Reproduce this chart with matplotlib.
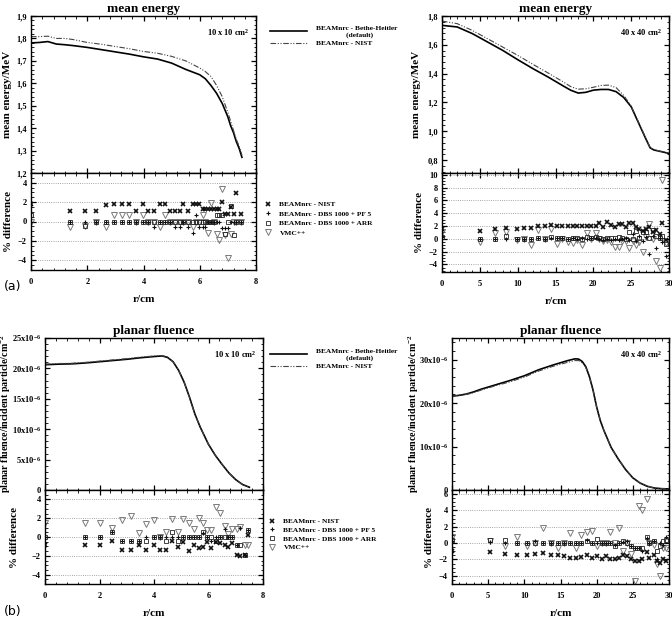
import numpy as np
import matplotlib
matplotlib.use('Agg')
from matplotlib import pyplot as plt
from matplotlib.ticker import MultipleLocator, AutoMinorLocator, FuncFormatter

plt.rcParams['font.family'] = ['Liberation Serif', 'DejaVu Serif']
plt.rcParams['font.weight'] = 'bold'
plt.rcParams['mathtext.default'] = 'regular'
plt.rcParams['axes.linewidth'] = 1.0

# ---- mean energy, 10 x 10 ----
r_me10 = [0, 0.3, 0.6, 0.9, 1.2, 1.5, 2.0, 2.5, 3.0, 3.5, 4.0, 4.5, 5.0, 5.5, 6.0, 6.2, 6.4, 6.6, 6.8, 7.0, 7.1, 7.2, 7.3, 7.4, 7.5]
bh_me10 = [1.78, 1.782, 1.786, 1.775, 1.772, 1.768, 1.76, 1.75, 1.74, 1.73, 1.718, 1.708, 1.69, 1.662, 1.638, 1.62, 1.59, 1.555, 1.51, 1.45, 1.41, 1.38, 1.34, 1.31, 1.27]
nist_me10 = [1.808, 1.808, 1.81, 1.8, 1.8, 1.795, 1.782, 1.774, 1.764, 1.754, 1.742, 1.734, 1.72, 1.70, 1.668, 1.652, 1.63, 1.59, 1.54, 1.47, 1.43, 1.39, 1.35, 1.32, 1.28]

# ---- mean energy, 40 x 40 ----
r_me40 = [0, 2, 4, 6, 8, 10, 12, 14, 16, 17, 18, 19, 20, 21, 22, 23, 24, 25, 26, 27, 27.5, 28, 29, 30]
bh_me40 = [1.735, 1.724, 1.678, 1.62, 1.562, 1.497, 1.435, 1.377, 1.315, 1.285, 1.265, 1.27, 1.285, 1.29, 1.29, 1.275, 1.235, 1.17, 1.055, 0.94, 0.885, 0.87, 0.858, 0.846]
nist_me40 = [1.765, 1.747, 1.70, 1.643, 1.585, 1.527, 1.465, 1.405, 1.343, 1.31, 1.292, 1.295, 1.305, 1.318, 1.32, 1.303, 1.25, 1.175, 1.06, 0.945, 0.888, 0.872, 0.86, 0.848]

# ---- planar fluence (x1e-6), 10 x 10 ----
r_fl10 = [0, 0.5, 1, 1.5, 2, 2.5, 3, 3.5, 4, 4.3, 4.5, 4.7, 4.9, 5.1, 5.3, 5.5, 5.7, 6.0, 6.25, 6.5, 6.75, 7.0, 7.25, 7.5]
bh_fl10 = [20.6, 20.7, 20.75, 20.9, 21.1, 21.3, 21.5, 21.75, 21.95, 22.05, 21.8, 21.1, 19.7, 17.8, 15.3, 12.5, 10.3, 7.5, 5.7, 4.2, 2.8, 1.7, 0.9, 0.45]
nist_fl10 = [20.7, 20.8, 20.85, 21.0, 21.2, 21.4, 21.6, 21.85, 22.05, 22.1, 21.85, 21.1, 19.7, 17.8, 15.3, 12.5, 10.3, 7.5, 5.7, 4.2, 2.8, 1.7, 0.9, 0.45]

# ---- planar fluence (x1e-6), 40 x 40 ----
r_fl40 = [0, 1, 2, 3, 4, 6, 8, 10, 12, 14, 16, 17, 17.5, 18, 18.5, 19, 19.5, 20, 20.5, 21, 22, 23, 24, 25, 26, 27, 28, 29, 30]
bh_fl40 = [21.6, 21.8, 22.1, 22.6, 23.2, 24.2, 25.2, 26.3, 27.7, 28.8, 29.8, 30.2, 30.15, 29.6, 28.4, 26.1, 23.0, 19.1, 16.0, 13.7, 9.8, 7.1, 4.7, 2.8, 1.6, 0.85, 0.45, 0.3, 0.25]
nist_fl40 = [21.6, 21.8, 22.0, 22.4, 23.0, 24.0, 24.9, 26.0, 27.4, 28.5, 29.4, 29.8, 29.8, 29.3, 28.2, 26.0, 23.0, 19.1, 16.0, 13.7, 9.8, 7.1, 4.7, 2.8, 1.6, 0.85, 0.45, 0.3, 0.25]

# ---- % difference, mean energy 10 x 10 ----
r_d10a = [0, 1.37, 1.92, 2.32, 2.66, 2.96, 3.23, 3.5, 3.74, 3.98, 4.16, 4.37, 4.57, 4.75, 4.93, 5.11, 5.29, 5.41, 5.59, 5.75, 5.87, 5.99, 6.1, 6.2, 6.3, 6.4, 6.5, 6.6, 6.7, 6.8, 6.9, 7.0, 7.1, 7.2, 7.3, 7.45]
nist_d10a = [1.8, 1.13, 1.13, 1.13, 1.73, 1.8, 1.8, 1.8, 1.13, 1.8, 1.13, 1.13, 1.8, 1.8, 1.13, 1.13, 1.13, 1.8, 1.13, 1.8, 1.8, 1.8, 1.33, 1.33, 1.33, 1.33, 1.33, 1.33, 1.33, 1.97, 0.8, 0.8, 1.47, 0.8, 2.97, 0.8]
pf5_d10a = [0, 0, 0, 0, 0, 0, 0, 0, 0, 0, 0, -0.6, 0, 0, 0, -0.6, -0.6, 0, -0.6, -1.17, 0.67, -0.6, -0.6, -0.6, 0, 0, 0, 0, 0, -0.7, -0.7, -0.7, 0, 0, 0, 0]
arr_d10a = [0.63, 0, -0.5, 0, 0, 0, 0, 0, 0, 0, 0, 0, 0, 0, 0, 0, 0, 0, 0, 0, 0, 0, 0, 0, 0, 0, 0, 0.67, 0.67, 0.67, -1.27, 0, 1.57, -1.43, 0, 0]
vmc_d10a = [0, -0.6, -0.5, 0, -0.6, 0.67, 0.67, 0.67, 0, 0.67, 0, 0, -0.6, 0.67, 0, 0, 0, 0, 0, -0.6, 0, 0, 0.67, 0, -1.17, 1.9, 0, -1.27, -1.87, 3.4, -1.37, -3.77, -1.33, 0, 0, 0]

# ---- % difference, mean energy 40 x 40 ----
r_d40a = [0, 5.05, 7.0, 8.5, 9.9, 10.8, 11.8, 12.7, 13.6, 14.4, 15.2, 15.9, 16.6, 17.3, 17.9, 18.5, 19.1, 19.7, 20.3, 20.8, 21.3, 21.8, 22.4, 22.8, 23.4, 23.8, 24.3, 24.7, 25.2, 25.6, 26.0, 26.5, 26.9, 27.4, 27.9, 28.3, 28.8, 29.1, 29.6]
nist_d40a = [1.5, 1.25, 1.5, 1.75, 1.6, 1.75, 1.75, 2.0, 2.0, 2.1, 2.0, 2.0, 2.0, 2.0, 2.0, 2.0, 2.0, 2.0, 2.0, 2.4, 1.9, 2.65, 2.1, 1.9, 2.25, 2.35, 1.85, 2.5, 2.4, 1.9, 1.5, 1.25, 1.5, 1.9, 1.0, 1.4, 0.75, 2.5, -0.25]
pf5_d40a = [0.3, -0.1, 0, 0, -0.1, 0, 0, 0.1, 0, 0.1, 0.2, 0.1, 0, 0.1, 0, 0.2, 0, 0.1, 0.2, 0, -0.2, -0.1, -0.2, 0, -0.2, 0, 0.1, -0.2, 0.8, -0.3, 0.5, -0.4, 0.3, -2.4, 0.5, -1.4, 0.2, -0.5, -2.75]
arr_d40a = [0.25, -0.1, -0.1, 0.5, -0.1, -0.1, 0.0, 0.2, -0.1, 0.3, 0.2, 0.2, 0.0, 0.1, 0.2, 0.0, 0.3, 0.2, 0.3, 0.1, 0.0, 0.2, 0.2, 0.1, 0.3, 0.2, 0.0, 1.1, -0.1, 1.25, 0.2, 1.0, 1.1, 0.1, 1.3, 0.5, 0.1, 0.5, -0.75]
vmc_d40a = [1.1, -0.5, 0.85, 1.0, -0.2, 0.0, -1.0, 1.35, 0.0, 1.6, -0.75, 0.0, -0.5, -0.6, -0.25, -0.9, 0.9, 0.0, 0.9, 0.0, -0.3, -0.25, -0.5, -1.25, -1.25, -0.3, -0.3, -1.5, -0.3, -1.0, -0.5, -2.0, 0.3, 2.25, 0.0, -3.5, -4.5, 9.25, -0.6]

# ---- % difference, planar fluence 10 x 10 ----
r_d10b = [0, 1.45, 2.0, 2.45, 2.82, 3.15, 3.44, 3.72, 4.0, 4.23, 4.45, 4.66, 4.87, 5.07, 5.28, 5.46, 5.64, 5.79, 5.95, 6.1, 6.26, 6.44, 6.59, 6.72, 6.87, 7.03, 7.17, 7.33, 7.45]
nist_d10b = [-0.9, -0.9, -0.9, -0.45, -1.33, -1.33, -0.9, -1.33, -0.9, -1.33, -1.33, -0.45, -1.05, -0.56, -1.44, -0.9, -1.16, -1.05, -0.56, -1.16, -0.56, -0.63, -0.9, -1.09, -0.63, -1.93, -2.03, -1.9, 0.2]
pf5_d10b = [0, 0, 0, 0.5, -0.45, -0.45, -0.45, 0, 0, 0, 0, 0, 0, 0, 0, 0, 0, 0.4, 0, -0.45, 0, 0, 0.8, 0, 0, -0.9, 1.0, -1.9, 0.7]
arr_d10b = [0, 0, 0, 0.5, -0.45, -0.45, -0.45, -0.45, 0, 0, -0.45, 0.5, -0.45, 0, 0, 0, 0, 0.5, 0, 0, -0.45, 0, 0, 0, 0, -0.9, -0.9, -1.9, 0.74]
vmc_d10b = [1.47, 1.47, 1.47, 0.95, 1.82, 2.28, 0.4, 1.37, 1.82, 0, 0.5, 1.9, 0.5, 1.9, 1.47, 0.88, 2.0, 1.47, 0.7, 0.7, 3.23, 2.53, 1.19, 0.3, 0.84, 0.84, 1.05, -0.85, -0.85]

# ---- % difference, planar fluence 40 x 40 ----
r_d40b = [0, 5.3, 7.35, 8.96, 10.3, 11.5, 12.6, 13.7, 14.6, 15.5, 16.3, 17.1, 17.9, 18.6, 19.3, 20.0, 20.7, 21.3, 21.9, 22.5, 23.1, 23.7, 24.2, 24.7, 25.3, 25.8, 26.3, 26.9, 27.3, 27.9, 28.3, 28.8, 29.2, 29.6]
nist_d40b = [-1.0, -1.1, -1.3, -1.4, -1.4, -1.3, -1.2, -1.5, -1.4, -1.6, -1.8, -1.8, -1.7, -1.5, -1.8, -1.6, -1.9, -1.6, -1.9, -1.9, -1.8, -1.5, -1.6, -1.9, -2.2, -2.2, -2.0, -1.1, -1.8, -1.5, -2.2, -2.4, -2.0, -2.2]
pf5_d40b = [0.2, 0.1, 0, 0, 0, 0.3, 0, 0, 0, 0, 0, 0, 0, 0.4, 0, 0, 0, 0, 0, -0.2, 0, 0.1, 0.3, -0.3, -0.6, -0.6, -1.0, 0.6, 0, 0.2, -2.0, 0, -0.2, 0.8]
arr_d40b = [0.4, 0.4, 0.4, 0, 0, 0, 0, 0, 0, 0, 0, 0, 0, 0.3, 0, 0.5, 0, 0, 0, -0.3, 0, 0.2, 0, -0.3, -0.6, -0.6, -0.6, 0.8, 0, 0.2, -1.0, -0.4, 0.2, 0.4]
vmc_d40b = [0.8, 0.2, -0.4, 0.8, -0.4, 0, 1.8, 0, -0.6, 0, 1.3, -0.6, 1.0, 1.4, 1.5, -0.4, 0, 0, 1.4, 0, 1.8, -1.0, 0, -1.3, -4.6, 4.6, 4.0, 5.4, 0, -0.2, -2.5, -4.0, -0.6, -0.6]

line_labels = ['BEAMnrc - Bethe-Heitler\n                (default)', 'BEAMnrc - NIST']
diff_labels = ['BEAMnrc - NIST', 'BEAMnrc - DBS 1000 + PF 5', 'BEAMnrc - DBS 1000 + ARR', 'VMC++']

W, H = 672, 622
fig = plt.figure(figsize=(W / 100, H / 100), dpi=100)


def box(l, t, r, b):
    return [l / W, 1 - b / H, (r - l) / W, (b - t) / H]


def ticks(ax, xmaj, ymaj, ymin_n=5):
    ax.xaxis.set_major_locator(MultipleLocator(xmaj))
    ax.xaxis.set_minor_locator(AutoMinorLocator(5))
    ax.yaxis.set_major_locator(MultipleLocator(ymaj))
    ax.yaxis.set_minor_locator(AutoMinorLocator(ymin_n))
    ax.tick_params(which='both', direction='in', top=True, right=True, labelsize=6, pad=3)
    ax.tick_params(which='major', length=3.5, width=0.9)
    ax.tick_params(which='minor', length=1.8, width=0.6)


comma = FuncFormatter(lambda v, p: ('%.1f' % v).replace('.', ','))
fluence_fmt = FuncFormatter(lambda v, p: '0' if abs(v) < 1e-9 else '%dx10$^{-6}$' % round(v))


def top_panel(rect, r, bh, nist, xlim, ylim, xmaj, ymaj, title, size_txt, ylabel, ylab_x, fmt, ylab_fs=8):
    ax = fig.add_axes(box(*rect))
    l1, = ax.plot(r, bh, color='black', lw=1.2)
    l2, = ax.plot(r, nist, color='#444444', lw=0.8, dashes=(5, 1.5, 1, 1.5, 1, 1.5))
    ax.set_xlim(*xlim)
    ax.set_ylim(*ylim)
    ticks(ax, xmaj, ymaj)
    ax.yaxis.set_major_formatter(fmt)
    ax.tick_params(labelbottom=False)
    ax.set_title(title, fontsize=9.5, fontweight='bold', pad=3)
    ax.text(0.97, 0.93, size_txt, transform=ax.transAxes, ha='right', va='top', fontsize=6)
    ax.set_ylabel(ylabel, fontsize=ylab_fs, fontweight='bold')
    ax.yaxis.set_label_coords(ylab_x, 0.5)
    return ax, [l1, l2]


def diff_panel(rect, r, nist, pf5, arr, vmc, xlim, ylim, xmaj, ylab_x):
    ax = fig.add_axes(box(*rect))
    h4, = ax.plot(r, vmc, ls='none', marker='v', ms=3.8, mfc='none', mec='#7a7a7a', mew=0.7)
    h3, = ax.plot(r, arr, ls='none', marker='s', ms=3.0, mfc='none', mec='#222222', mew=0.6)
    h2, = ax.plot(r, pf5, ls='none', marker='+', ms=3.2, color='#111111', mew=0.8)
    h1, = ax.plot(r, nist, ls='none', marker='x', ms=3.4, color='#111111', mew=1.2)
    ax.set_xlim(*xlim)
    ax.set_ylim(*ylim)
    ticks(ax, xmaj, 2, 4)
    ax.yaxis.grid(True, which='major', ls=':', lw=0.6, color='#888888')
    ax.set_xlabel('r/cm', fontsize=8, fontweight='bold', labelpad=6)
    ax.set_ylabel('% difference', fontsize=8, fontweight='bold')
    ax.yaxis.set_label_coords(ylab_x, 0.5)
    ax.tick_params(axis='x', pad=6)
    return ax, [h1, h2, h3, h4]


# (a) mean energy
axa1, lines_a = top_panel((31, 16, 256, 173), r_me10, bh_me10, nist_me10, (0, 8), (1.2, 1.9), 2, 0.1,
                          'mean energy', '10 x 10 cm$^2$', 'mean energy/MeV', -0.084, comma)
axa2, _ = top_panel((442, 16, 669, 173), r_me40, bh_me40, nist_me40, (0, 30), (0.71, 1.8), 5, 0.2,
                    'mean energy', '40 x 40 cm$^2$', 'mean energy/MeV', -0.093, comma)
axa3, marks_a = diff_panel((31, 173, 256, 270), r_d10a, nist_d10a, pf5_d10a, arr_d10a, vmc_d10a,
                           (0, 8), (-5, 5), 2, -0.08)
axa4, _ = diff_panel((442, 173, 669, 272), r_d40a, nist_d40a, pf5_d40a, arr_d40a, vmc_d40a,
                     (0, 30), (-5.2, 10.3), 5, -0.08)

# (b) planar fluence
axb1, lines_b = top_panel((45, 338, 263, 490), r_fl10, bh_fl10, nist_fl10, (0, 8), (0, 25), 2, 5,
                          'planar fluence', '10 x 10 cm$^2$', 'planar fluence/incident particle/cm$^{-2}$',
                          -0.145, fluence_fmt, 7.2)
axb2, _ = top_panel((452, 338, 669, 490), r_fl40, bh_fl40, nist_fl40, (0, 30), (0, 35), 5, 10,
                    'planar fluence', '40 x 40 cm$^2$', 'planar fluence/incident particle/cm$^{-2}$',
                    -0.143, fluence_fmt, 7.2)
axb3, marks_b = diff_panel((45, 490, 263, 584), r_d10b, nist_d10b, pf5_d10b, arr_d10b, vmc_d10b,
                           (0, 8), (-5, 5), 2, -0.12)
axb4, _ = diff_panel((452, 490, 669, 584), r_d40b, nist_d40b, pf5_d40b, arr_d40b, vmc_d40b,
                     (0, 30), (-5, 6.5), 5, -0.083)

# legends
leg_kw = dict(loc='upper left', frameon=False, fontsize=5.3, borderaxespad=0, borderpad=0)
fig.legend(lines_a, line_labels, bbox_to_anchor=(270 / W, 1 - 26 / H),
           handlelength=5.0, handletextpad=1.3, labelspacing=0.35, **leg_kw)
fig.legend(marks_a, diff_labels, bbox_to_anchor=(264 / W, 1 - 201 / H),
           handlelength=1.0, handletextpad=1.1, labelspacing=0.45, **leg_kw)
fig.legend(lines_b, line_labels, bbox_to_anchor=(270 / W, 1 - 349 / H),
           handlelength=5.0, handletextpad=1.3, labelspacing=0.35, **leg_kw)
fig.legend(marks_b, diff_labels, bbox_to_anchor=(268 / W, 1 - 518 / H),
           handlelength=1.0, handletextpad=1.1, labelspacing=0.35, **leg_kw)

fig.text(4 / W, 1 - 286 / H, '(a)', family='DejaVu Sans', fontweight='normal', fontsize=9, va='center')
fig.text(4 / W, 1 - 612 / H, '(b)', family='DejaVu Sans', fontweight='normal', fontsize=9, va='center')

fig.savefig('out.png', dpi=100)
